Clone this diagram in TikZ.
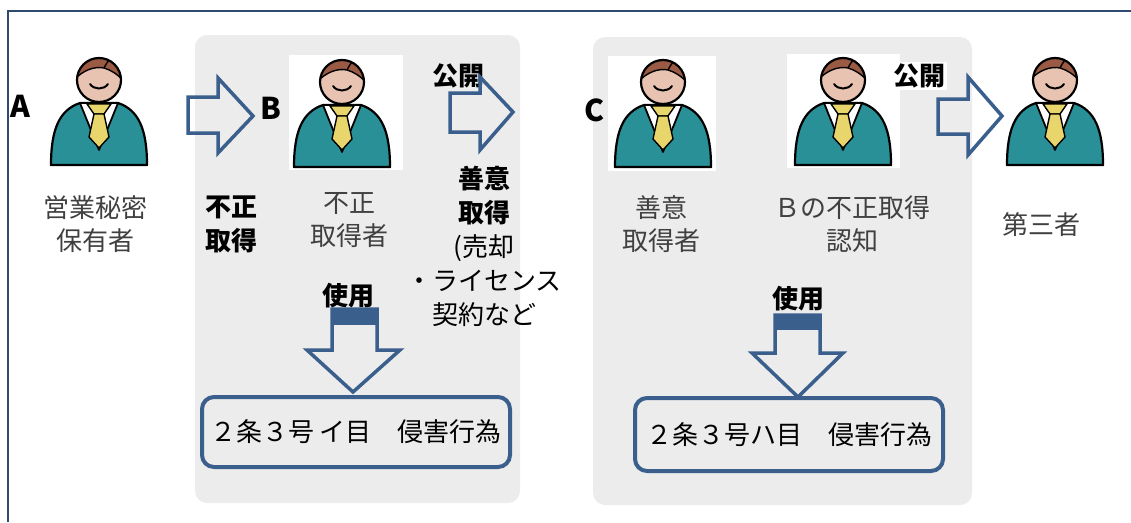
\documentclass[tikz,border=0pt]{standalone}
\usepackage{fontspec}
\newfontfamily\jp{Noto Sans CJK JP}
\usetikzlibrary{calc}
\definecolor{arrowblue}{RGB}{59,95,140}
\definecolor{frameblue}{RGB}{46,74,110}
\definecolor{panelgray}{RGB}{236,236,236}
\definecolor{suitteal}{RGB}{42,144,152}
\definecolor{facepink}{RGB}{233,195,178}
\definecolor{hairbrown}{RGB}{155,90,68}
\definecolor{tieyellow}{RGB}{232,213,107}
\definecolor{txtgray}{RGB}{64,64,64}
\begin{document}
\begin{tikzpicture}[x=1pt,y=-1pt,
  panel/.style={fill=panelgray, rounded corners=12pt},
  iconbg/.style={fill=white},
  blockarrow/.style={draw=arrowblue, line width=3.5pt, line join=miter},
  lawbox/.style={draw=arrowblue, line width=4pt, rounded corners=12pt, minimum width=308pt, minimum height=70pt, inner sep=0pt,
    font=\jp\fontsize{26}{30}\selectfont},
  plain/.style={font=\jp\fontsize{26}{33}\selectfont, text=txtgray, align=center, inner sep=1pt},
  bold/.style={font=\jp\bfseries\fontsize{26}{34}\selectfont, text=black, align=center, inner sep=1pt},
  letter/.style={font=\jp\bfseries\fontsize{30}{30}\selectfont, text=black, inner sep=0pt},
  person/.pic={
    % body and suit
    \filldraw[fill=suitteal, draw=black, line width=2.2pt, line join=round]
      (-19,23) .. controls (-40,30) and (-48,50) .. (-48,85) -- (48,85)
      .. controls (48,50) and (40,30) .. (19,23) -- cycle;
    % shirt collar
    \filldraw[fill=white, draw=black, line width=1.8pt, line join=round]
      (-19,23) -- (19,23) -- (0,70) -- cycle;
    % tie
    \filldraw[fill=tieyellow, draw=black, line width=1.4pt, line join=round]
      (-12,24) -- (12,24) -- (5,34) -- (-5,34) -- cycle;
    \filldraw[fill=tieyellow, draw=black, line width=1.4pt, line join=round]
      (-5,34) -- (5,34) -- (10,57) -- (0,68) -- (-10,57) -- cycle;
    % head
    \fill[facepink] (0,0) circle (22);
    \begin{scope}
      \clip (0,0) circle (22);
      \fill[hairbrown] (-25,0) .. controls (-16,-10) and (-4,-14) .. (5,-12)
        .. controls (12,-10) and (18,-6) .. (25,1) -- (25,-30) -- (-25,-30) -- cycle;
      \draw[line width=1.4pt] (-25,0) .. controls (-16,-10) and (-4,-14) .. (5,-12)
        .. controls (12,-10) and (18,-6) .. (25,1);
      \draw[line width=1.4pt] (5,-12) .. controls (8,-18) and (10,-20) .. (13,-23);
    \end{scope}
    \draw[line width=2.2pt] (0,0) circle (22);
    \draw[line width=2pt, line cap=round] (-9,4) .. controls (-5,10) and (5,10) .. (9,4);
  }
]
\useasboundingbox (0,0) rectangle (1131,522);

% outer frame (top and left edges)
\draw[frameblue, line width=2.5pt] (8,522) -- (8,11) -- (1131,11);

% grey panels
\fill[panel] (195,35) rectangle (520,503);
\fill[panel] (593,37) rectangle (972,505);

% white backgrounds behind icons
\fill[iconbg] (289,55) rectangle (403,170);
\fill[iconbg] (608,56) rectangle (716,171);
\fill[iconbg] (787,54) rectangle (900,168);

% people
\pic at (99,80) {person};
\pic at (342,82) {person};
\pic at (663,82) {person};
\pic at (843,80) {person};
\pic at (1055,80) {person};

% letters
\node[letter] (la) at (20,106) {A};
\node[letter] (lb) at (271,108) {B};
\node[letter] (lc) at (594,110) {C};

% captions under the people
\node[plain] (ownerA) at (95,224) {営業秘密\\保有者};
\node[plain] (holderB) at (349,220) {不正\\取得者};
\node[plain] (holderC) at (661,224) {善意\\取得者};
\node[plain] (aware) at (852,224) {Ｂの不正取得\\認知};
\node[plain] (third) at (1041,225) {第三者};

% transfer labels
\node[bold] (wrongful) at (231,224) {不正\\取得};
\node[bold] (pubB) at (458,76) {公開};
\node[bold, fill=white, inner sep=2pt] (pubC) at (919,76) {公開};
\node[bold, anchor=north] (goodfaith) at (484,165) {善意\\取得\\{\mdseries (売却}\\{\mdseries ・ライセンス}\\{\mdseries 契約など}};
\node[bold] (useB) at (348,296) {使用};
\node[bold] (useC) at (798,299) {使用};

% right-pointing block arrows
\draw[blockarrow] (188,97) -- (218,97) -- (218,78) -- (253,116) -- (218,153) -- (218,133) -- (188,133) -- cycle;
\draw[blockarrow] (450,93) -- (480,93) -- (480,77) -- (513,112) -- (480,150) -- (480,132) -- (450,132) -- cycle;
\draw[blockarrow] (938,99) -- (968,99) -- (968,77) -- (1002,116) -- (968,155) -- (968,134) -- (938,134) -- cycle;

% downward block arrows
\fill[arrowblue] (332,309) rectangle (377,325);
\draw[blockarrow] (332,309) -- (332,350) -- (307,350) -- (353,392) -- (400,350) -- (377,350) -- (377,309) -- cycle;
\fill[arrowblue] (775,315) rectangle (820,330);
\draw[blockarrow] (775,315) -- (775,353) -- (752,353) -- (798,397) -- (843,353) -- (820,353) -- (820,315) -- cycle;

% infringement boxes
\node[lawbox] (actB) at (356,432) {２条３号 イ目　侵害行為};
\node[lawbox, minimum height=73pt] (actC) at (789,434.5) {２条３号ハ目　侵害行為};
\end{tikzpicture}
\end{document}
